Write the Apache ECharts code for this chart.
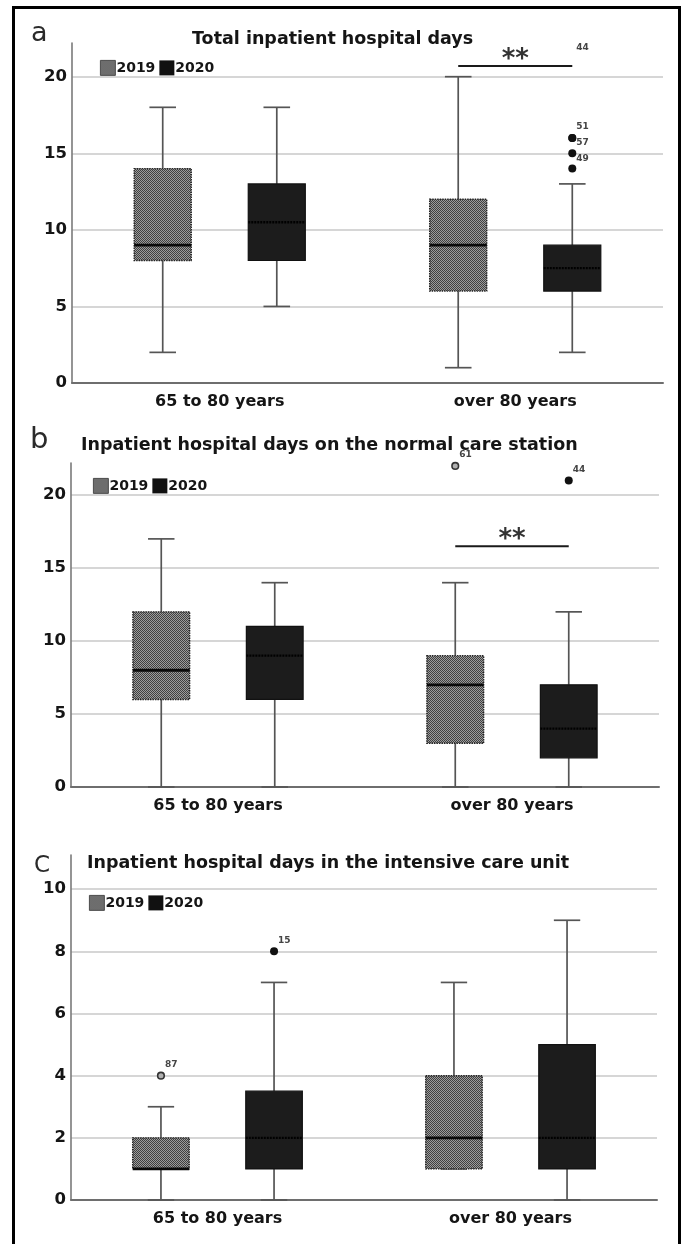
<!DOCTYPE html>
<html>
<head>
<meta charset="utf-8">
<script src="https://cdn.jsdelivr.net/npm/echarts@6/dist/echarts.min.js"></script>
<style>
html, body { margin: 0; padding: 0; background: #ffffff; }
#chart { width: 685px; height: 1244px; }
</style>
</head>
<body>
<div id="chart"></div>
<script>
// ---------------- DATA ----------------
const categories = ['65 to 80 years', 'over 80 years'];
const years = ['2019', '2020'];
const panelLetters = ['a', 'b', 'C'];
const panelTitles = [
  'Total inpatient hospital days',
  'Inpatient hospital days on the normal care station',
  'Inpatient hospital days in the intensive care unit'
];

// five-number summaries [min, Q1, median, Q3, max], one row per age group
const totalDays2019 = [[2, 8, 9, 14, 18], [1, 6, 9, 12, 20]];
const totalDays2020 = [[5, 8, 10.5, 13, 18], [2, 6, 7.5, 9, 13]];
const normalDays2019 = [[0, 6, 8, 12, 17], [0, 3, 7, 9, 14]];
const normalDays2020 = [[0, 6, 9, 11, 14], [0, 2, 4, 7, 12]];
const icuDays2019 = [[0, 1, 1, 2, 3], [1, 1, 2, 4, 7]];
const icuDays2020 = [[0, 1, 2, 3.5, 7], [0, 1, 2, 5, 9]];

// outliers: [age group index, value, case number]
const totalOut2019 = [];
const totalOut2020 = [[1, 23, '44'], [1, 16, '51'], [1, 16, '57'], [1, 15, '49'], [1, 14, '']];
const normalOut2019 = [[1, 22, '61']];
const normalOut2020 = [[1, 21, '44']];
const icuOut2019 = [[0, 4, '87']];
const icuOut2020 = [[0, 8, '15']];

// significance markers: [age group index, value, text]
const totalSig = [[1, 20.7, '**']];
const normalSig = [[1, 16.5, '**']];
const icuSig = [];

// y tick labels
const yTicksTotal = [0, 5, 10, 15, 20];
const yTicksNormal = [0, 5, 10, 15, 20];
const yTicksIcu = [0, 2, 4, 6, 8, 10];

// ---------------- LAYOUT / STYLE ----------------
const FONT = "'DejaVu Sans', 'Liberation Sans', sans-serif";
const panels = [
  { box: [totalDays2019, totalDays2020], out: [totalOut2019, totalOut2020], sig: totalSig, ticks: yTicksTotal,
    yMax: 22.2, grid: { left: 72, right: 22, top: 43, height: 340 },
    letter: { left: 31, top: 20, size: 27 }, title: { left: 192, top: 30 }, legend: { left: 100, top: 60 } },
  { box: [normalDays2019, normalDays2020], out: [normalOut2019, normalOut2020], sig: normalSig, ticks: yTicksNormal,
    yMax: 22.2, grid: { left: 71, right: 26, top: 463, height: 324 },
    letter: { left: 30, top: 426, size: 29 }, title: { left: 81, top: 436 }, legend: { left: 93, top: 478 } },
  { box: [icuDays2019, icuDays2020], out: [icuOut2019, icuOut2020], sig: icuSig, ticks: yTicksIcu,
    yMax: 11.1, grid: { left: 71, right: 28, top: 855, height: 345 },
    letter: { left: 34, top: 855, size: 23 }, title: { left: 87, top: 854 }, legend: { left: 89, top: 895 } }
];

const OFF = 0.193;   // box centre offset (fraction of band)
const HALF = 0.0965; // half box width
const CAP = 0.045;   // half cap width

// checker pattern for 2019
const pc = document.createElement('canvas');
pc.width = 2; pc.height = 2;
const pctx = pc.getContext('2d');
pctx.fillStyle = '#9c9c9c'; pctx.fillRect(0, 0, 2, 2);
pctx.fillStyle = '#404040'; pctx.fillRect(0, 0, 1, 1); pctx.fillRect(1, 1, 1, 1);
const pattern = { image: pc, repeat: 'repeat' };

function boxRender(side) {
  return function (params, api) {
    const cat = api.value(0);
    const mn = api.value(1), q1 = api.value(2), md = api.value(3), q3 = api.value(4), mx = api.value(5);
    const band = api.size([1, 0])[0];
    const cx = api.coord([cat, md])[0] + side * band * OFF;
    const hw = band * HALF, cw = band * CAP;
    const Y = v => api.coord([cat, v])[1];
    const whisk = { stroke: '#555', lineWidth: 1.7 };
    const children = [];
    if (mx > q3) {
      children.push({ type: 'line', shape: { x1: cx, y1: Y(q3), x2: cx, y2: Y(mx) }, style: whisk });
    }
    children.push({ type: 'line', shape: { x1: cx - cw, y1: Y(mx), x2: cx + cw, y2: Y(mx) }, style: whisk });
    if (mn < q1) {
      children.push({ type: 'line', shape: { x1: cx, y1: Y(q1), x2: cx, y2: Y(mn) }, style: whisk });
    }
    children.push({ type: 'line', shape: { x1: cx - cw, y1: Y(mn), x2: cx + cw, y2: Y(mn) }, style: whisk });
    const yTop = Y(q3), yBot = Y(q1);
    children.push({
      type: 'rect',
      shape: { x: cx - hw, y: yTop, width: 2 * hw, height: yBot - yTop },
      style: side < 0
        ? { fill: pattern, stroke: '#222', lineWidth: 1.4, lineDash: [1.5, 1] }
        : { fill: '#1c1c1c', stroke: '#111', lineWidth: 1.2 }
    });
    children.push({
      type: 'line',
      shape: { x1: cx - hw, y1: Y(md), x2: cx + hw, y2: Y(md) },
      style: side < 0 ? { stroke: '#0a0a0a', lineWidth: 2.8 } : { stroke: '#000', lineWidth: 2.4, lineDash: [2, 1] }
    });
    return { type: 'group', children };
  };
}

function outRender(side, arr) {
  return function (params, api) {
    const rec = arr[params.dataIndex];
    const cat = rec[0], val = rec[1], lab = rec[2];
    const band = api.size([1, 0])[0];
    const p = api.coord([cat, val]);
    const x = p[0] + side * band * OFF;
    const top = params.coordSys.y;
    const inside = p[1] >= top;
    const y = inside ? p[1] : top;
    const children = [];
    if (inside) {
      children.push({
        type: 'circle', shape: { cx: x, cy: y, r: side < 0 ? 3.3 : 4 },
        style: side < 0 ? { fill: '#b0b0b0', stroke: '#333', lineWidth: 1.6 } : { fill: '#111' }
      });
    }
    if (lab) {
      const crowded = !inside || arr.some((o, j) => j < params.dataIndex && o[0] === cat && o[1] >= val && o[1] - val <= 1.5);
      children.push({
        type: 'text',
        style: {
          text: lab, x: x + 4, y: y + (crowded ? 5 : -11),
          fill: '#444', font: "bold 9px " + FONT, align: 'left', verticalAlign: 'middle'
        }
      });
    }
    return { type: 'group', children };
  };
}

function sigRender(arr) {
  return function (params, api) {
    const rec = arr[params.dataIndex];
    const band = api.size([1, 0])[0];
    const p = api.coord([rec[0], rec[1]]);
    const x1 = p[0] - band * OFF, x2 = p[0] + band * OFF;
    return {
      type: 'group',
      children: [
        { type: 'line', shape: { x1, y1: p[1], x2, y2: p[1] }, style: { stroke: '#1a1a1a', lineWidth: 2 } },
        { type: 'text', style: { text: rec[2], x: p[0], y: p[1] - 6, fill: '#333',
            font: "bold 26px " + FONT, align: 'center', verticalAlign: 'middle' } }
      ]
    };
  };
}

const option = {
  animation: false,
  backgroundColor: '#ffffff',
  graphic: [{
    type: 'rect', shape: { x: 13.5, y: 7.5, width: 666, height: 1260 },
    style: { fill: 'none', stroke: '#000', lineWidth: 3 }, silent: true, z: 100
  }],
  title: [],
  legend: [],
  grid: [],
  xAxis: [],
  yAxis: [],
  series: []
};

panels.forEach((p, i) => {
  option.title.push({
    text: panelLetters[i], left: p.letter.left, top: p.letter.top, padding: 0,
    textStyle: { fontFamily: FONT, fontWeight: 'normal', fontSize: p.letter.size, color: '#2a2a2a' }
  });
  option.title.push({
    text: panelTitles[i], left: p.title.left, top: p.title.top, padding: 0,
    textStyle: { fontFamily: FONT, fontWeight: 'bold', fontSize: 17.5, color: '#151515' }
  });
  option.legend.push({
    left: p.legend.left, top: p.legend.top, padding: 0, orient: 'horizontal',
    itemWidth: 15, itemHeight: 15, itemGap: 4, selectedMode: false, icon: 'rect',
    textStyle: { fontFamily: FONT, fontWeight: 'bold', fontSize: 14, color: '#151515', padding: [0, 0, 0, -4] },
    data: [
      { name: years[0], itemStyle: { color: pattern, borderColor: '#333', borderWidth: 0.8 } },
      { name: years[1], itemStyle: { color: '#111', borderWidth: 0 } }
    ]
  });
  option.grid.push(Object.assign({ containLabel: false }, p.grid));
  option.xAxis.push({
    type: 'category', gridIndex: i, data: categories,
    axisLine: { show: true, lineStyle: { color: '#6e6e6e', width: 2 } },
    axisTick: { show: false },
    axisLabel: { margin: 11, fontFamily: FONT, fontWeight: 'bold', fontSize: 16, color: '#151515' },
    splitLine: { show: false }
  });
  const ticks = p.ticks;
  option.yAxis.push({
    type: 'value', gridIndex: i, min: ticks[0], max: p.yMax, interval: ticks[1] - ticks[0],
    axisLine: { show: true, lineStyle: { color: '#7a7a7a', width: 1.6 } },
    axisTick: { show: false },
    axisLabel: {
      margin: 5, fontFamily: FONT, fontWeight: 'bold', fontSize: 16.5, color: '#151515',
      showMaxLabel: false,
      formatter: v => (ticks.indexOf(v) >= 0 ? String(v) : '')
    },
    splitLine: { show: true, showMaxLine: false, lineStyle: { color: '#c9c9c9', width: 1.6 } }
  });
  [0, 1].forEach(k => {
    const side = k === 0 ? -1 : 1;
    option.series.push({
      type: 'custom', name: years[k], xAxisIndex: i, yAxisIndex: i,
      renderItem: boxRender(side),
      encode: { x: 0, y: [1, 2, 3, 4, 5] },
      data: p.box[k].map((s, c) => [c].concat(s)),
      z: 3
    });
    if (p.out[k].length) {
      option.series.push({
        type: 'custom', name: years[k], xAxisIndex: i, yAxisIndex: i, clip: false,
        renderItem: outRender(side, p.out[k]),
        encode: { x: 0, y: 1 },
        data: p.out[k].map(o => [o[0], o[1]]),
        z: 4
      });
    }
  });
  if (p.sig.length) {
    option.series.push({
      type: 'custom', name: 'sig' + i, xAxisIndex: i, yAxisIndex: i, clip: false,
      renderItem: sigRender(p.sig),
      encode: { x: 0, y: 1 },
      data: p.sig.map(s => [s[0], s[1]]),
      z: 4
    });
  }
});

const chart = echarts.init(document.getElementById('chart'));
chart.setOption(option);
</script>
</body>
</html>
